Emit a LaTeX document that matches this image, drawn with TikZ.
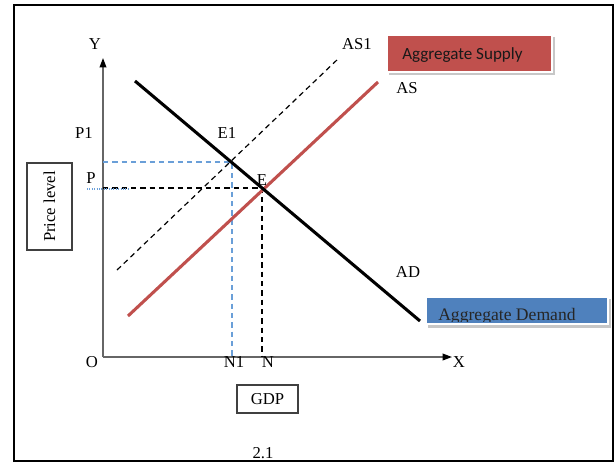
\documentclass[tikz,border=0pt]{standalone}
\usepackage{fontspec}
\setmainfont{Liberation Serif}
\newfontfamily\carlito{Carlito}
\usetikzlibrary{arrows.meta}
\definecolor{asred}{HTML}{C0504D}
\definecolor{adblue}{HTML}{4F81BD}
\definecolor{dblue}{HTML}{6A9FD8}
\definecolor{axgray}{HTML}{666666}
\begin{document}
\begin{tikzpicture}[x=0.75pt,y=-0.75pt,
  lbl/.style={font=\fontsize{12.5}{14}\selectfont, inner sep=0pt},
  axisline/.style={draw=axgray, line width=1.1pt, -{Triangle[length=7pt,width=5pt,color=black]}},
  curvethick/.style={line width=2.3pt},
  guide/.style={line width=0.9pt, dash pattern=on 4pt off 3pt},
  framebox/.style={draw=black!75, line width=0.8pt}]
\useasboundingbox (0,0) rectangle (616,462);
\fill[white] (0,0) rectangle (616,462);
\draw[line width=2pt] (14,462) -- (14,5) -- (613,5) -- (613,462);
\draw[line width=2pt] (14,461) -- (613,461);
% axes
\coordinate (O) at (103,357);
\coordinate (ytip) at (103,58);
\coordinate (xtip) at (452,357);
\draw[axisline] (O) -- (ytip);
\draw[axisline] (O) -- (xtip);
\node[lbl] (ylab) at (95,44) {Y};
\node[lbl] (xlab) at (459,362) {X};
\node[lbl] (olab) at (92,362) {O};
% key points
\coordinate (E) at (262,188);
\coordinate (E1) at (232,162);
\coordinate (N) at (262,357);
\coordinate (N1) at (232,357);
\coordinate (Pax) at (103,188);
\coordinate (P1ax) at (103,162);
% guides
\draw[guide, dblue] (P1ax) -- (E1) -- (N1);
\draw[guide, black] (Pax) -- (E) -- (N);
\draw[dblue, line width=0.8pt, densely dotted] (87,189) -- (128,189);
% curves
\coordinate (as1a) at (117,270);
\coordinate (as1b) at (339,58);
\draw[guide, black] (as1a) -- (as1b);
\coordinate (asa) at (128,316);
\coordinate (asb) at (378,82);
\draw[curvethick, asred] (asa) -- (asb);
\coordinate (ada) at (135,81);
\coordinate (adb) at (420,321);
\draw[curvethick, black] (ada) -- (adb);
% labels
\node[lbl] (p1lab) at (84,133) {P1};
\node[lbl] (e1lab) at (227,133) {E1};
\node[lbl] (plab) at (91,178) {P};
\node[lbl] (elab) at (262,180) {E};
\node[lbl] (n1lab) at (234,362) {N1};
\node[lbl] (nlab) at (268,362) {N};
\node[lbl] (as1lab) at (357,44) {AS1};
\node[lbl] (aslab) at (407,88) {AS};
\node[lbl] (adlab) at (408,272) {AD};
\node[lbl] (fig) at (263,453) {2.1};
% price level box
\draw[framebox] (27,163) rectangle (72,250);
\node[lbl, rotate=90] (price) at (49.5,206.5) {Price level};
% GDP box
\draw[framebox] (237,385) rectangle (298,413);
\node[lbl] (gdp) at (267.5,399.5) {GDP};
% Aggregate Supply box
\fill[black!22] (389,37) rectangle (555,75);
\draw[white, line width=2pt] (387,35) rectangle (552,72);
\fill[asred] (388,36) rectangle (551,71);
\node[anchor=base west, inner sep=0pt, font=\carlito\fontsize{12.8}{14}\selectfont, text=black!90] (supply) at (402,59) {Aggregate Supply};
% Aggregate Demand box
\fill[black!22] (428,299) rectangle (611,328);
\draw[white, line width=2pt] (426,297) rectangle (608,324);
\fill[adblue] (427,298) rectangle (607,323);
\begin{scope}
\clip (427,298) rectangle (607,321);
\node[anchor=base west, inner sep=0pt, font=\fontsize{13.2}{15}\selectfont, text=black!85] (demand) at (438,320) {Aggregate Demand};
\end{scope}
\end{tikzpicture}
\end{document}
